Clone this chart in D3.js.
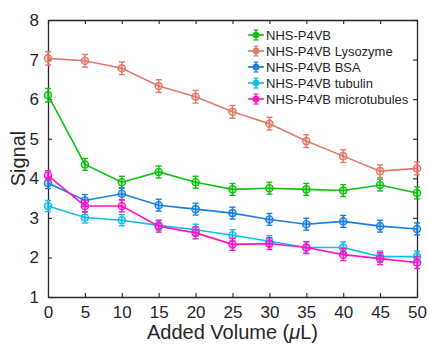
<!DOCTYPE html>
<html>
<head>
<meta charset="utf-8">
<script src="https://cdn.jsdelivr.net/npm/d3@7"></script>
<style>
  body { margin: 0; background: #fff; }
  text { font-family: "Liberation Sans", Arial, sans-serif; }
</style>
</head>
<body>
<svg width="429" height="347"></svg>
<script>
var volumes = [0, 5, 10, 15, 20, 25, 30, 35, 40, 45, 50];
var seriesNames = ["NHS-P4VB", "NHS-P4VB Lysozyme", "NHS-P4VB BSA", "NHS-P4VB tubulin", "NHS-P4VB microtubules"];
var colors = ["#10c010", "#e07b6c", "#1a7fe0", "#12bde6", "#ff14c8"];

var p4vb = [6.1, 4.35, 3.9, 4.16, 3.9, 3.72, 3.75, 3.72, 3.69, 3.83, 3.63];
var lysozyme = [7.03, 6.97, 6.78, 6.33, 6.06, 5.68, 5.38, 4.94, 4.56, 4.18, 4.25];
var bsa = [3.88, 3.44, 3.61, 3.32, 3.22, 3.12, 2.96, 2.84, 2.91, 2.79, 2.72];
var tubulin = [3.3, 3.01, 2.94, 2.81, 2.7, 2.56, 2.41, 2.25, 2.25, 2.02, 2.02];
var microtubules = [4.07, 3.3, 3.3, 2.79, 2.62, 2.33, 2.35, 2.25, 2.07, 1.97, 1.87];

var errP4vb = [0.17, 0.15, 0.15, 0.15, 0.15, 0.15, 0.15, 0.15, 0.15, 0.15, 0.15];
var errLysozyme = [0.17, 0.16, 0.16, 0.16, 0.16, 0.16, 0.16, 0.16, 0.16, 0.16, 0.16];
var errBsa = [0.14, 0.15, 0.15, 0.15, 0.15, 0.15, 0.15, 0.15, 0.15, 0.15, 0.15];
var errTubulin = [0.14, 0.14, 0.14, 0.12, 0.14, 0.14, 0.14, 0.14, 0.14, 0.14, 0.14];
var errMicro = [0.12, 0.15, 0.15, 0.15, 0.15, 0.15, 0.15, 0.15, 0.15, 0.15, 0.15];

var yTicks = [1, 2, 3, 4, 5, 6, 7, 8];
var xTicks = [0, 5, 10, 15, 20, 25, 30, 35, 40, 45, 50];

var allValues = [p4vb, lysozyme, bsa, tubulin, microtubules];
var allErrors = [errP4vb, errLysozyme, errBsa, errTubulin, errMicro];

var svg = d3.select("svg");
var mLeft = 48, mRight = 417, mTop = 20, mBottom = 297;

var xScale = d3.scaleLinear().domain([0, 50]).range([mLeft, mRight]);
var yScale = d3.scaleLinear().domain([1, 8]).range([mBottom, mTop]);

// axes, ticks inside
var xAxis = d3.axisBottom(xScale).tickValues(xTicks).tickFormat(d3.format("d"))
  .tickSizeInner(-4).tickSizeOuter(0).tickPadding(9);
var yAxis = d3.axisLeft(yScale).tickValues(yTicks).tickFormat(d3.format("d"))
  .tickSizeInner(-4).tickSizeOuter(0).tickPadding(9);

var gx = svg.append("g").attr("transform", "translate(0," + mBottom + ")").call(xAxis);
var gy = svg.append("g").attr("transform", "translate(" + mLeft + ",0)").call(yAxis);
var gxt = svg.append("g").attr("transform", "translate(0," + mTop + ")")
  .call(d3.axisTop(xScale).tickValues(xTicks).tickSizeInner(-4).tickSizeOuter(0).tickFormat(""));
var gyr = svg.append("g").attr("transform", "translate(" + mRight + ",0)")
  .call(d3.axisRight(yScale).tickValues(yTicks).tickSizeInner(-4).tickSizeOuter(0).tickFormat(""));

[gx, gy, gxt, gyr].forEach(g => {
  g.select(".domain").attr("stroke", "#262626").attr("stroke-width", 1.3);
  g.selectAll(".tick line").attr("stroke", "#262626").attr("stroke-width", 1.1);
  g.selectAll("text").attr("font-size", 17).attr("fill", "#262626")
    .attr("font-family", "Liberation Sans, Arial, sans-serif");
});

svg.append("text")
  .attr("x", (mLeft + mRight) / 2).attr("y", 339)
  .attr("text-anchor", "middle").attr("font-size", 20).attr("fill", "#262626")
  .html("Added Volume (<tspan font-style='italic'>\u03bc</tspan>L)");

svg.append("text")
  .attr("transform", "translate(25," + (mTop + mBottom) / 2 + ") rotate(-90)")
  .attr("text-anchor", "middle").attr("font-size", 20).attr("fill", "#262626")
  .text("Signal");

var line = d3.line().x((d, i) => xScale(volumes[i])).y(d => yScale(d));

allValues.forEach((vals, s) => {
  var c = colors[s];
  var errs = allErrors[s];
  var g = svg.append("g");
  g.append("path").datum(vals).attr("d", line)
    .attr("fill", "none").attr("stroke", c).attr("stroke-width", 1.6);
  var eb = g.selectAll(".eb").data(vals).enter().append("g");
  eb.append("line")
    .attr("x1", (d, i) => xScale(volumes[i])).attr("x2", (d, i) => xScale(volumes[i]))
    .attr("y1", (d, i) => yScale(d - errs[i])).attr("y2", (d, i) => yScale(d + errs[i]))
    .attr("stroke", c).attr("stroke-width", 1.4);
  [-1, 1].forEach(sg => {
    eb.append("line")
      .attr("x1", (d, i) => xScale(volumes[i]) - 3).attr("x2", (d, i) => xScale(volumes[i]) + 3)
      .attr("y1", (d, i) => yScale(d + sg * errs[i])).attr("y2", (d, i) => yScale(d + sg * errs[i]))
      .attr("stroke", c).attr("stroke-width", 1.4);
  });
  eb.append("circle")
    .attr("cx", (d, i) => xScale(volumes[i])).attr("cy", d => yScale(d)).attr("r", 3.6)
    .attr("fill", c).attr("fill-opacity", 0.35).attr("stroke", c).attr("stroke-width", 1.4);
});

// legend
var legend = svg.append("g");
seriesNames.forEach((name, s) => {
  var y = 35 + s * 16;
  var c = colors[s];
  legend.append("line").attr("x1", 248).attr("x2", 264).attr("y1", y).attr("y2", y)
    .attr("stroke", c).attr("stroke-width", 1.6);
  legend.append("line").attr("x1", 256).attr("x2", 256).attr("y1", y - 5).attr("y2", y + 5)
    .attr("stroke", c).attr("stroke-width", 1.4);
  legend.append("line").attr("x1", 253.5).attr("x2", 258.5).attr("y1", y - 5).attr("y2", y - 5)
    .attr("stroke", c).attr("stroke-width", 1.2);
  legend.append("line").attr("x1", 253.5).attr("x2", 258.5).attr("y1", y + 5).attr("y2", y + 5)
    .attr("stroke", c).attr("stroke-width", 1.2);
  legend.append("circle").attr("cx", 256).attr("cy", y).attr("r", 3)
    .attr("fill", c).attr("stroke", c);
  legend.append("text").attr("x", 266).attr("y", y + 4.5)
    .attr("font-size", 13).attr("fill", "#262626").text(name);
});
</script>
</body>
</html>
